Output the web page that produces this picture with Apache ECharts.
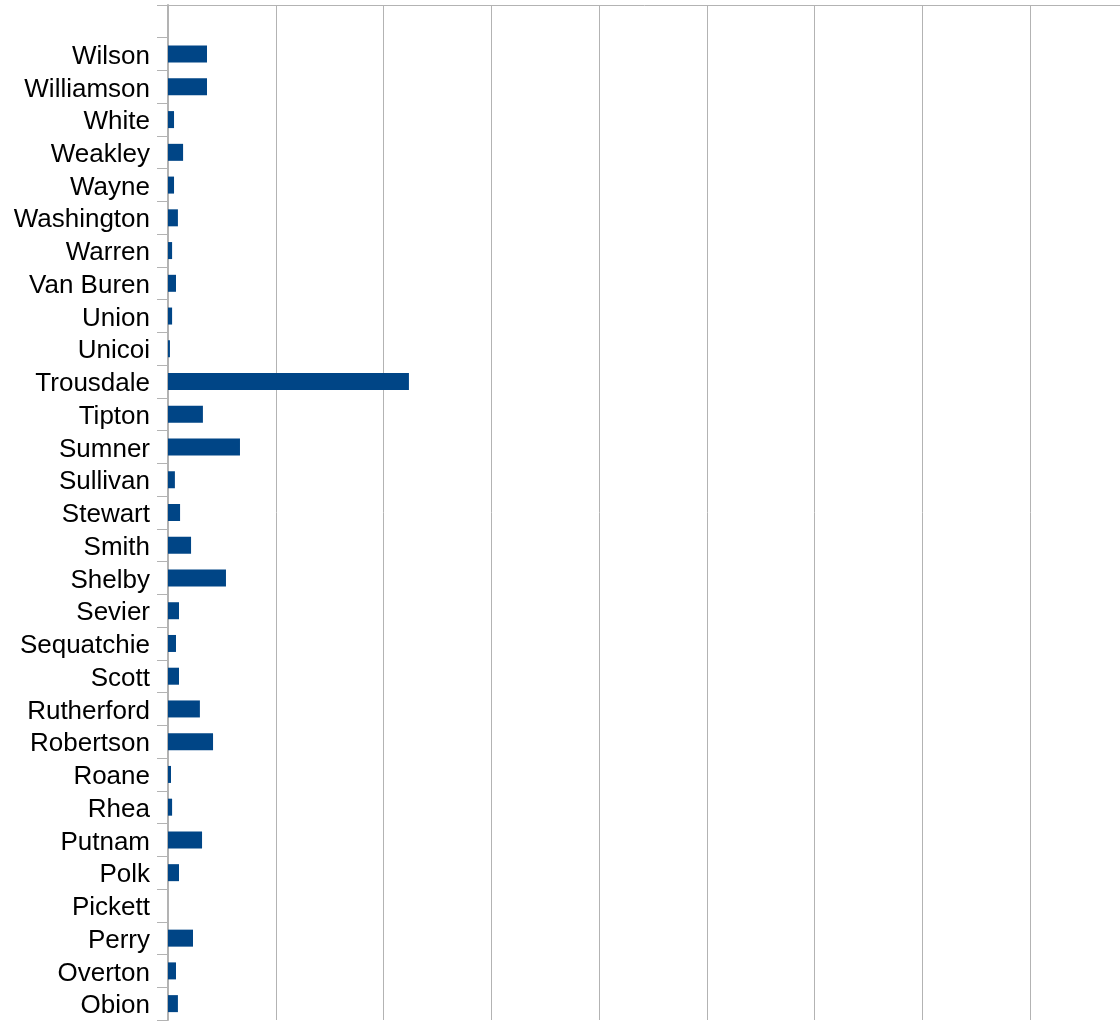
<!DOCTYPE html>
<html>
<head>
<meta charset="utf-8">
<title>Tennessee counties</title>
<script src="https://cdn.jsdelivr.net/npm/echarts@6/dist/echarts.min.js"></script>
<style>
  html, body { margin: 0; padding: 0; background: #ffffff; }
  #chart { width: 1120px; height: 1021px; }
</style>
</head>
<body>
<div id="chart"></div>
<script>
// Counties, top to bottom (the leading blank keeps an empty band above Wilson)
const counties = ['', 'Wilson', 'Williamson', 'White', 'Weakley', 'Wayne', 'Washington',
  'Warren', 'Van Buren', 'Union', 'Unicoi', 'Trousdale', 'Tipton', 'Sumner', 'Sullivan',
  'Stewart', 'Smith', 'Shelby', 'Sevier', 'Sequatchie', 'Scott', 'Rutherford', 'Robertson',
  'Roane', 'Rhea', 'Putnam', 'Polk', 'Pickett', 'Perry', 'Overton', 'Obion'];

// Value per county, same order
const values = [null, 1.81, 1.81, 0.28, 0.70, 0.28, 0.46,
  0.19, 0.37, 0.19, 0.09, 11.18, 1.62, 3.34, 0.32,
  0.56, 1.07, 2.69, 0.51, 0.37, 0.51, 1.48, 2.09,
  0.14, 0.19, 1.58, 0.51, 0, 1.16, 0.37, 0.46];

// Value axis range and step
const axisMin = 0;
const axisMax = 45;
const axisStep = 5;

const chart = echarts.init(document.getElementById('chart'), null, { renderer: 'canvas' });

// The plot area runs past the right edge of the page, so its width is set directly
chart.setOption({
  animation: false,
  backgroundColor: '#ffffff',
  grid: {
    left: 168, width: 969.75, top: 5, bottom: 1,
    outerBoundsMode: 'none', containLabel: false
  },
  xAxis: {
    type: 'value',
    position: 'top',
    min: axisMin,
    max: axisMax,
    interval: axisStep,
    axisLine: { show: true, lineStyle: { color: '#b3b3b3', width: 1 } },
    axisTick: { show: false },
    axisLabel: { show: false },
    splitLine: { show: true, lineStyle: { color: '#b3b3b3', width: 1 } }
  },
  yAxis: {
    type: 'category',
    inverse: true,
    data: counties,
    axisLine: { show: true, lineStyle: { color: '#b3b3b3', width: 2 } },
    axisTick: { show: true, inside: false, length: 11, lineStyle: { color: '#b3b3b3', width: 1 } },
    axisLabel: {
      interval: 0,
      margin: 18,
      formatter: '{n|{value}}',
      rich: {
        n: {
          padding: [5, 0, 0, 0],
          color: '#000000',
          fontSize: 26,
          fontFamily: 'Liberation Sans, Arial, sans-serif'
        }
      }
    },
    splitLine: { show: false }
  },
  series: [{
    type: 'bar',
    data: values,
    barWidth: 17,
    itemStyle: { color: '#004586' }
  }]
});
</script>
</body>
</html>
